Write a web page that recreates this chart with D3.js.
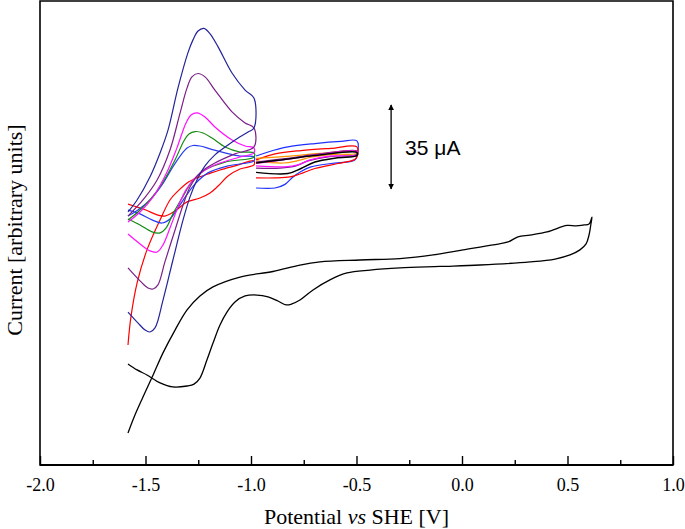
<!DOCTYPE html>
<html><head><meta charset="utf-8">
<script src="https://cdn.jsdelivr.net/npm/d3@7"></script>
<style>body{margin:0;background:#fff}svg{display:block}</style>
</head><body>
<svg id="c" width="685" height="529"></svg>
<script>
// ---------- data (potential in V vs SHE, current in µA, arbitrary offset) ----------
const xTickValues = [-2.0, -1.5, -1.0, -0.5, 0.0, 0.5, 1.0];
const xTickLabels = ["-2.0", "-1.5", "-1.0", "-0.5", "0.0", "0.5", "1.0"];
const xMinorTicks = [-1.75, -1.25, -0.75, -0.25, 0.25, 0.75];
const scaleBarValue = 35;
const scaleBarPos = [-0.336, 149.6];

// wide window CV (black)
const cvWide = [[-1.583,41.7],[-1.540,39.2],[-1.493,37.1],[-1.431,33.8],[-1.370,32.1],[-1.303,32.5],[-1.270,33.3],[-1.242,35.8],[-1.209,43.3],[-1.180,50.4],[-1.147,57.9],[-1.114,63.3],[-1.076,67.5],[-1.028,70.0],[-0.972,70.4],[-0.919,69.6],[-0.872,67.9],[-0.834,66.3],[-0.806,66.7],[-0.768,68.3],[-0.706,72.5],[-0.626,76.7],[-0.545,79.6],[-0.436,80.8],[-0.294,81.7],[-0.104,82.3],[0.085,82.9],[0.322,84.2],[0.441,85.4],[0.512,87.1],[0.559,89.2],[0.588,91.7],[0.602,95.4],[0.611,100.0],[0.616,102.9],[0.602,100.0],[0.578,99.6],[0.540,99.2],[0.498,99.4],[0.403,96.7],[0.322,95.4],[0.265,94.6],[0.218,92.5],[0.147,91.3],[0.005,89.2],[-0.137,87.1],[-0.294,85.6],[-0.483,85.0],[-0.673,84.2],[-0.768,82.9],[-0.896,80.2],[-1.052,77.9],[-1.180,73.8],[-1.242,70.0],[-1.303,64.2],[-1.360,55.8],[-1.417,46.3],[-1.464,37.1],[-1.512,27.9],[-1.550,20.4],[-1.583,12.9]];

// narrow window CVs, -1.58 .. -0.98 V
const cvRedLeft = [[-1.583,108.3],[-1.498,105.8],[-1.445,103.8],[-1.408,103.3],[-1.360,105.4],[-1.303,109.2],[-1.242,110.8],[-1.194,112.9],[-1.156,115.8],[-1.109,120.0],[-1.052,122.9],[-0.986,124.6],[-0.986,126.3],[-1.076,124.2],[-1.147,122.5],[-1.204,120.8],[-1.256,119.2],[-1.303,117.1],[-1.351,113.3],[-1.384,110.0],[-1.431,101.7],[-1.493,89.2],[-1.540,75.4],[-1.569,61.3],[-1.583,49.6]];
const cvBlue1 = [[-1.583,105.8],[-1.526,104.2],[-1.469,101.7],[-1.422,100.4],[-1.384,102.1],[-1.346,106.7],[-1.308,111.7],[-1.265,116.7],[-1.204,121.3],[-1.109,124.2],[-0.986,126.3],[-0.986,127.9],[-1.052,128.3],[-1.123,129.6],[-1.194,131.3],[-1.242,132.5],[-1.275,132.7],[-1.303,131.7],[-1.336,128.3],[-1.374,123.3],[-1.422,116.3],[-1.479,110.0],[-1.536,105.8],[-1.583,103.3]];
const cvGreen = [[-1.583,102.1],[-1.526,99.6],[-1.469,96.7],[-1.431,96.3],[-1.403,98.3],[-1.370,104.2],[-1.327,110.8],[-1.280,117.5],[-1.218,122.5],[-1.123,125.8],[-0.986,127.9],[-0.986,129.6],[-1.052,130.0],[-1.123,132.1],[-1.185,135.8],[-1.227,137.9],[-1.265,138.5],[-1.294,137.5],[-1.318,134.6],[-1.360,126.7],[-1.417,117.5],[-1.479,110.0],[-1.536,105.0],[-1.583,101.7]];
const cvMagenta = [[-1.583,95.8],[-1.526,91.7],[-1.479,88.8],[-1.445,88.3],[-1.417,91.3],[-1.384,98.3],[-1.346,107.1],[-1.308,114.2],[-1.265,119.2],[-1.218,122.5],[-1.147,125.4],[-1.052,127.9],[-0.986,129.6],[-0.986,131.7],[-1.028,132.5],[-1.090,135.0],[-1.171,140.4],[-1.218,144.6],[-1.256,146.3],[-1.284,145.4],[-1.308,142.1],[-1.351,131.7],[-1.398,121.7],[-1.464,111.3],[-1.526,105.0],[-1.583,100.8]];
const cvPurple = [[-1.583,81.7],[-1.526,76.3],[-1.488,73.3],[-1.464,72.9],[-1.441,74.6],[-1.408,84.2],[-1.360,97.5],[-1.322,107.9],[-1.289,115.4],[-1.242,121.3],[-1.171,125.4],[-1.076,129.2],[-0.986,132.1],[-0.986,140.0],[-1.028,142.1],[-1.090,146.7],[-1.171,155.8],[-1.218,161.3],[-1.251,162.7],[-1.280,161.3],[-1.303,156.7],[-1.336,146.3],[-1.384,130.8],[-1.445,118.3],[-1.512,110.0],[-1.583,103.3]];
const cvNavy = [[-1.583,63.3],[-1.536,58.8],[-1.502,55.8],[-1.479,55.0],[-1.455,56.7],[-1.417,68.3],[-1.370,85.0],[-1.322,101.7],[-1.289,111.3],[-1.256,118.3],[-1.218,124.2],[-1.171,128.8],[-1.109,132.9],[-1.052,136.3],[-1.014,138.3],[-0.986,140.0],[-0.986,152.5],[-1.028,155.8],[-1.090,162.9],[-1.156,173.8],[-1.194,179.2],[-1.223,181.5],[-1.251,180.4],[-1.275,176.7],[-1.299,171.3],[-1.346,156.7],[-1.393,139.2],[-1.431,129.6],[-1.479,119.6],[-1.540,110.0],[-1.583,105.0]];

// narrow window CVs, -0.98 .. -0.50 V
const cvBlueRight = [[-0.976,115.0],[-0.886,115.0],[-0.839,116.5],[-0.801,119.6],[-0.763,121.9],[-0.716,123.8],[-0.621,125.2],[-0.531,126.0],[-0.507,126.7],[-0.498,128.3],[-0.498,134.6],[-0.573,134.4],[-0.697,133.5],[-0.825,132.1],[-0.919,130.0],[-0.976,128.3]];
const cvRedRight = [[-0.976,119.2],[-0.886,119.2],[-0.815,119.6],[-0.768,120.8],[-0.697,123.1],[-0.588,125.2],[-0.512,126.7],[-0.498,127.9],[-0.498,132.1],[-0.621,131.5],[-0.763,130.6],[-0.886,129.2],[-0.976,126.7]];
const cvOrangeRight = [[-0.976,126.3],[-0.848,125.4],[-0.782,126.3],[-0.711,127.9],[-0.602,129.0],[-0.498,129.4],[-0.498,130.2],[-0.673,129.4],[-0.815,128.3],[-0.976,127.3]];
const cvMagentaRight = [[-0.976,124.2],[-0.839,123.8],[-0.777,124.6],[-0.720,126.7],[-0.626,128.3],[-0.498,128.8],[-0.498,130.2],[-0.673,129.0],[-0.815,127.1],[-0.976,125.2]];
const cvPurpleRight = [[-0.976,123.3],[-0.863,123.3],[-0.787,124.2],[-0.730,126.3],[-0.626,128.1],[-0.498,129.0],[-0.498,130.4],[-0.673,129.2],[-0.815,127.5],[-0.976,125.8]];
const cvBlackRight = [[-0.976,121.5],[-0.825,121.0],[-0.763,123.1],[-0.697,125.8],[-0.597,127.5],[-0.498,128.5],[-0.498,129.8],[-0.697,128.5],[-0.858,126.7],[-0.976,125.4]];

// ---------- drawing ----------
const plotL = 40, plotR = 673, plotT = 1, plotB = 465;
const x = d3.scaleLinear().domain([-2, 1]).range([plotL, plotR]);
const y = d3.scaleLinear().domain([0, 192.9]).range([464, 1]);
const svg = d3.select("#c");

const series = [
  {d: cvWide, c: "#000000", w: 1.3},
  {d: cvRedLeft, c: "#ff0000", w: 1.2},
  {d: cvBlue1, c: "#2a3cf0", w: 1.2},
  {d: cvGreen, c: "#138a13", w: 1.2},
  {d: cvMagenta, c: "#ff10ff", w: 1.2},
  {d: cvPurple, c: "#7a1e88", w: 1.2},
  {d: cvNavy, c: "#23239b", w: 1.2},
  {d: cvBlueRight, c: "#1f2fff", w: 1.2},
  {d: cvRedRight, c: "#ff0000", w: 1.2},
  {d: cvOrangeRight, c: "#ff9000", w: 1.2},
  {d: cvPurpleRight, c: "#7a1e88", w: 1.2},
  {d: cvMagentaRight, c: "#ff10ff", w: 1.2},
  {d: cvBlackRight, c: "#000000", w: 1.5}
];
const line = d3.line().x(d => x(d[0])).y(d => y(d[1])).curve(d3.curveCatmullRom.alpha(0.5));
svg.append("g").selectAll("path").data(series).join("path")
  .attr("d", s => line(s.d)).attr("fill", "none")
  .attr("stroke", s => s.c).attr("stroke-width", s => s.w)
  .attr("stroke-linejoin", "round");

// frame
svg.append("path")
  .attr("d", `M${plotL},${plotT}H${plotR}V${plotB}H${plotL}Z`)
  .attr("fill", "none").attr("stroke", "#000").attr("stroke-width", 1.6);
svg.append("line").attr("x1", plotL).attr("x2", plotR).attr("y1", plotB).attr("y2", plotB)
  .attr("stroke", "#000").attr("stroke-width", 2);

// axis ticks (inward)
const axMajor = d3.axisBottom(x).tickValues(xTickValues)
  .tickFormat((d, i) => xTickLabels[i]).tickSize(-9).tickPadding(13);
const gM = svg.append("g").attr("transform", `translate(0,${plotB})`).call(axMajor);
gM.select(".domain").remove();
gM.selectAll("line").attr("stroke-width", 1.4);
gM.selectAll("text").attr("font-family", "Liberation Serif, Times New Roman, serif")
  .attr("font-size", 18).attr("fill", "#000");
const axMinor = d3.axisBottom(x).tickValues(xMinorTicks).tickFormat("").tickSize(-5);
const gm = svg.append("g").attr("transform", `translate(0,${plotB})`).call(axMinor);
gm.select(".domain").remove();
gm.selectAll("line").attr("stroke-width", 1.4);

// axis titles
const xt = svg.append("text").attr("x", (plotL + plotR) / 2).attr("y", 524)
  .attr("text-anchor", "middle").attr("font-family", "Liberation Serif, Times New Roman, serif")
  .attr("font-size", 22).attr("fill", "#000");
xt.append("tspan").text("Potential ");
xt.append("tspan").attr("font-style", "italic").text("vs");
xt.append("tspan").text(" SHE [V]");
svg.append("text").attr("transform", "translate(22,230) rotate(-90)")
  .attr("text-anchor", "middle").attr("font-family", "Liberation Serif, Times New Roman, serif")
  .attr("font-size", 22).attr("fill", "#000").text("Current [arbitrary units]");

// scale bar
const defs = svg.append("defs");
defs.append("marker").attr("id", "ah").attr("viewBox", "0 0 10 10").attr("refX", 9).attr("refY", 5)
  .attr("markerWidth", 6).attr("markerHeight", 7).attr("orient", "auto-start-reverse")
  .attr("markerUnits", "userSpaceOnUse")
  .append("path").attr("d", "M0,0L10,5L0,10Z").attr("fill", "#000");
const sbx = x(scaleBarPos[0]);
svg.append("line").attr("x1", sbx).attr("x2", sbx)
  .attr("y1", y(scaleBarPos[1])).attr("y2", y(scaleBarPos[1] - scaleBarValue))
  .attr("stroke", "#000").attr("stroke-width", 1.3)
  .attr("marker-start", "url(#ah)").attr("marker-end", "url(#ah)");
svg.append("text").attr("x", sbx + 14).attr("y", y(scaleBarPos[1] - scaleBarValue / 2) + 8)
  .attr("font-family", "Liberation Sans, Arial, sans-serif").attr("font-size", 21).attr("fill", "#000")
  .text(scaleBarValue + " \u03bcA");
</script>
</body></html>
